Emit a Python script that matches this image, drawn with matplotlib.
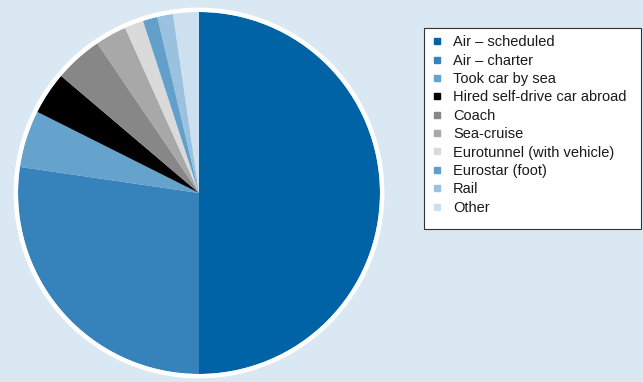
import matplotlib.pyplot as plt
from matplotlib.lines import Line2D
from matplotlib.patches import Circle, Rectangle

plt.rcParams['font.family'] = ['Liberation Sans', 'DejaVu Sans']

# Datos del gráfico (porcentajes)
categorias = ["Air – scheduled", "Air – charter", "Took car by sea",
              "Hired self-drive car abroad", "Coach", "Sea-cruise",
              "Eurotunnel (with vehicle)", "Eurostar (foot)", "Rail", "Other"]
valores = [50.0, 27.3, 5.1, 3.8, 4.3, 2.8, 1.7, 1.3, 1.4, 2.3]
colores = ["#0063a6", "#3682bb", "#66a3cc", "#000000", "#878787",
           "#a8a8a9", "#dadada", "#62a0cb", "#9ac2de", "#cde0ef"]

fondo = "#dae8f3"

fig = plt.figure(figsize=(6.43, 3.82), dpi=100, facecolor=fondo)
ax = fig.add_axes([13 / 643, 3 / 382, 372 / 643, 372 / 382])
ax.set_facecolor(fondo)

ax.pie(valores, colors=colores, startangle=90, counterclock=False,
       radius=1.0, wedgeprops=dict(linewidth=0))
# Anillo blanco alrededor del gráfico
ax.add_patch(Circle((0, 0), 1.012, fill=False, edgecolor="white", linewidth=3.2))
lim = 186 / 181
ax.set_xlim(-lim, lim)
ax.set_ylim(-lim, lim)
ax.set_aspect("equal")
ax.axis("off")

# Caja de la leyenda (más espacio abajo que arriba, como en el original)
fig.patches.append(Rectangle((424 / 643, 1 - 229 / 382), 217 / 643, 201 / 382,
                             transform=fig.transFigure, facecolor="white",
                             edgecolor="#333333", linewidth=0.8, zorder=0))

# Leyenda con marcadores cuadrados
handles = [Line2D([], [], marker="s", linestyle="none", markersize=5,
                  markerfacecolor=c, markeredgecolor=c) for c in colores]
leg = fig.legend(handles, categorias, loc="upper left",
                 bbox_to_anchor=(424 / 643, 1 - 28 / 382), fontsize=10.5,
                 frameon=False, handlelength=0.8,
                 handletextpad=0.7, labelspacing=0.30, borderpad=0.5,
                 borderaxespad=0)
for t in leg.get_texts():
    t.set_color("#1a1a1a")

fig.savefig("out.png", dpi=100, facecolor=fondo)
